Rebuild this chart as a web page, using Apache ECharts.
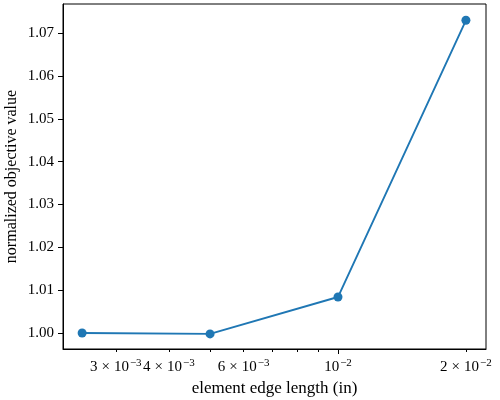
<!DOCTYPE html>
<html><head><meta charset="utf-8">
<script src="https://cdn.jsdelivr.net/npm/echarts@6/dist/echarts.min.js"></script>
<style>html,body{margin:0;padding:0;background:#fff}#c{width:500px;height:400px}</style>
</head><body><div id="c"></div>
<script>
const edgeLength = [0.0025, 0.005, 0.01, 0.02];
const objective = [1.0000, 0.9998, 1.0084, 1.0730];
const xLabelValues = [0.003, 0.004, 0.006, 0.01, 0.02];
const xMinorTickValues = [0.003, 0.004, 0.005, 0.006, 0.007, 0.008, 0.009, 0.02];
const xMajorTickValues = [0.01];
const yTickValues = [1.00, 1.01, 1.02, 1.03, 1.04, 1.05, 1.06, 1.07];
const xName = 'element edge length (in)';
const yName = 'normalized objective value';

const FONT = 'Liberation Serif';
const chart = echarts.init(document.getElementById('c'), null, {renderer: 'canvas'});
function xFmt(v) {
  const e = Math.floor(Math.log10(v) + 1e-9);
  const m = Math.round(v / Math.pow(10, e));
  if (m === 1) return '{b|10}{s|\u2212' + (-e) + '}';
  return '{b|' + m + '}{x|\u00d7}{b|10}{s|\u2212' + (-e) + '}';
}
const xMin = 0.002254, xMax = 0.0223;
const rich = {
  b: {fontFamily: FONT, fontSize: 15, color: '#000'},
  x: {fontFamily: FONT, fontSize: 15, color: '#000', padding: [0, 4, 0, 4]},
  s: {fontFamily: FONT, fontSize: 11, color: '#000', padding: [0, 0, 8, 1]}
};
chart.setOption({
  animation: false,
  grid: {left: 63, right: 14, top: 4, bottom: 51, show: true, borderColor: '#000', borderWidth: 1, outerBoundsMode: 'none', containLabel: false},
  xAxis: [{
    type: 'log', logBase: 10, min: xMin, max: xMax,
    name: xName, nameLocation: 'middle', nameGap: 28,
    nameTextStyle: {fontFamily: FONT, fontSize: 17, color: '#000'},
    axisLine: {show: true, lineStyle: {color: '#000', width: 1}},
    axisTick: {show: true, length: 3, lineStyle: {color: '#000'}, customValues: xMinorTickValues},
    axisLabel: {customValues: xLabelValues, formatter: xFmt, rich: rich, margin: 9, hideOverlap: false, interval: 0},
    splitLine: {show: false}, minorTick: {show: false}
  }, {
    type: 'log', logBase: 10, min: xMin, max: xMax, position: 'bottom',
    axisLine: {show: false},
    axisTick: {show: true, length: 5, lineStyle: {color: '#000'}, customValues: xMajorTickValues},
    axisLabel: {show: false}, splitLine: {show: false}
  }],
  yAxis: {
    type: 'value', min: 0.99627, max: 1.0768,
    name: yName, nameLocation: 'middle', nameGap: 43, nameMoveOverlap: false,
    nameTextStyle: {fontFamily: FONT, fontSize: 16, color: '#000'},
    axisLine: {show: true, lineStyle: {color: '#000', width: 1}},
    axisTick: {show: true, length: 5, lineStyle: {color: '#000'}, customValues: yTickValues},
    axisLabel: {customValues: yTickValues, formatter: v => v.toFixed(2), fontFamily: FONT, fontSize: 15, color: '#000', margin: 9},
    splitLine: {show: false}
  },
  series: [{
    type: 'line', xAxisIndex: 0,
    data: edgeLength.map((x, i) => [x, objective[i]]),
    symbol: 'circle', symbolSize: 9,
    lineStyle: {color: '#1f77b4', width: 1.9},
    itemStyle: {color: '#1f77b4'}
  }]
});
</script></body></html>
